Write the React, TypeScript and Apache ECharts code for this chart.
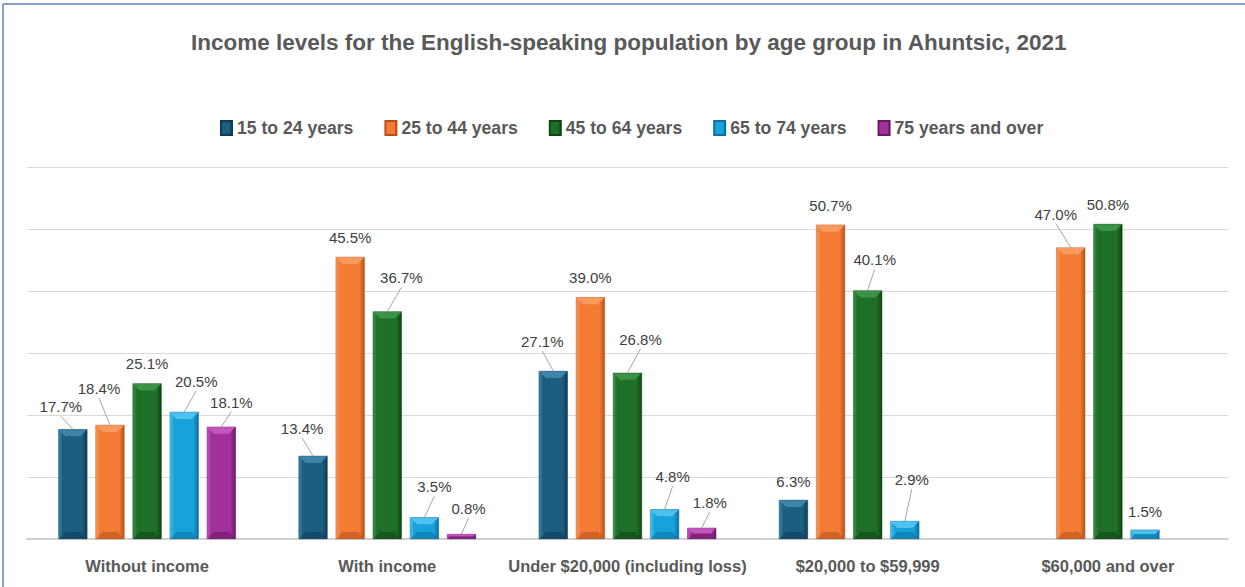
import React, { useEffect, useRef } from "react";
import * as echarts from "echarts";

const categories = [
  "Without income",
  "With income",
  "Under $20,000 (including loss)",
  "$20,000 to $59,999",
  "$60,000 and over",
];
const seriesNames = [
  "15 to 24 years",
  "25 to 44 years",
  "45 to 64 years",
  "65 to 74 years",
  "75 years and over",
];
const age15to24 = [17.7, 13.4, 27.1, 6.3, null];
const age25to44 = [18.4, 45.5, 39.0, 50.7, 47.0];
const age45to64 = [25.1, 36.7, 26.8, 40.1, 50.8];
const age65to74 = [20.5, 3.5, 4.8, 2.9, 1.5];
const age75plus = [18.1, 0.8, 1.8, null, null];
const seriesValues = [age15to24, age25to44, age45to64, age65to74, age75plus];

const yTicks = { min: 0, max: 60, interval: 10 };

// label displacement (style) per series / category
const labelOffsets: (number[] | null)[][] = [
  [[-12, -10], [-11, -15], [-11, -17], [0, -6], null],
  [[-11, -24], [0, -7], [0, -7], [0, -7], [-15, -21]],
  [[0, -7], [14, -21], [13, -21], [7, -18], [0, -7]],
  [[12, -18], [10, -18], [8, -20], [7, -29], [0, -6]],
  [[10, -12], [7, -13], [8, -13], null, null],
];

const colors = ["#1C5E80", "#F47B33", "#1E6F27", "#17A2DC", "#A2309C"];
const darkColors = ["#0E3A52", "#B5521A", "#0E4414", "#0C6F9C", "#6A1866"];
const lightColors = ["#3F86AA", "#F99C62", "#3E9447", "#52C3EF", "#C557BF"];

const SANS = "'Liberation Sans', Arial, sans-serif";
const BORDER = "#5B80BE";

export default function App() {
  const ref = useRef<HTMLDivElement>(null);
  useEffect(() => {
    if (!ref.current) return;
    const chart = echarts.init(ref.current, null, { renderer: "svg" });
    const series = seriesValues.map((vals, si) => ({
      name: seriesNames[si],
      type: "bar",
      barWidth: 29,
      barGap: "28%",
      itemStyle: {
        color: new echarts.graphic.LinearGradient(0, 0, 1, 0, [
          { offset: 0, color: lightColors[si] },
          { offset: 0.14, color: colors[si] },
          { offset: 0.82, color: colors[si] },
          { offset: 1, color: darkColors[si] },
        ]),
        borderColor: darkColors[si],
        borderWidth: 0.5,
      },
      label: {
        show: true,
        position: "top",
        distance: 5,
        color: "#404040",
        fontSize: 15,
        fontFamily: SANS,
        formatter: (p: any) => (p.value == null ? "" : Number(p.value).toFixed(1) + "%"),
      },
      labelLayout: (params: any) => {
        const o = labelOffsets[si][params.dataIndex];
        if (!o) return {};
        return { dx: o[0], dy: o[1] };
      },
      data: vals,
    }));

    const borderLines = [
      {
        type: "line",
        z: 20,
        shape: { x1: 3, y1: 4, x2: 1245, y2: 4 },
        style: { stroke: BORDER, lineWidth: 1.5 },
      },
      {
        type: "line",
        z: 20,
        shape: { x1: 3, y1: 4, x2: 3, y2: 587 },
        style: { stroke: BORDER, lineWidth: 1.5 },
      },
    ];

    chart.setOption({
      animation: false,
      backgroundColor: "#FFFFFF",
      color: colors,
      title: {
        text: "Income levels for the English-speaking population by age group in Ahuntsic, 2021",
        left: 186,
        top: 26,
        textStyle: {
          color: "#595959",
          fontSize: 22.5,
          fontWeight: "bold",
          fontFamily: SANS,
        },
      },
      legend: {
        top: 114,
        left: 215,
        itemWidth: 11,
        itemHeight: 14,
        itemGap: 31,
        icon: "rect",
        textStyle: {
          color: "#595959",
          fontSize: 17.6,
          fontWeight: "bold",
          fontFamily: SANS,
        },
        data: seriesNames,
      },
      grid: { left: 27, right: 17, top: 167, bottom: 48 },
      xAxis: {
        type: "category",
        data: categories,
        axisTick: { show: false },
        axisLine: { lineStyle: { color: "#D0D0D0", width: 2 } },
        axisLabel: {
          color: "#595959",
          fontSize: 16.5,
          fontWeight: "bold",
          fontFamily: SANS,
          margin: 18,
          interval: 0,
        },
      },
      yAxis: {
        type: "value",
        min: yTicks.min,
        max: yTicks.max,
        interval: yTicks.interval,
        axisLabel: { show: false },
        axisLine: { show: false },
        axisTick: { show: false },
        splitLine: { lineStyle: { color: "#D9D9D9", width: 1 } },
      },
      graphic: borderLines,
      series,
    });

    // bevel highlights and leader lines derived from the library's bar layout
    const extra: any[] = [];
    try {
      const model = (chart as any).getModel();
      seriesValues.forEach((vals, si) => {
        const data = model.getSeriesByIndex(si).getData();
        vals.forEach((v, ci) => {
          if (v == null) return;
          const lay = data.getItemLayout(ci);
          if (!lay || !isFinite(lay.x) || !isFinite(lay.y)) return;
          const x = lay.x;
          const w = lay.width;
          const top = Math.min(lay.y, lay.y + lay.height);
          const bottom = Math.max(lay.y, lay.y + lay.height);
          const h = bottom - top;
          const b = Math.min(7, h / 2);
          extra.push({
            type: "polygon",
            z: 10,
            silent: true,
            shape: {
              points: [
                [x + 0.5, top + 0.5],
                [x + w - 0.5, top + 0.5],
                [x + w - b, top + b],
                [x + b, top + b],
              ],
            },
            style: { fill: lightColors[si], opacity: 0.95 },
          });
          extra.push({
            type: "polygon",
            z: 10,
            silent: true,
            shape: {
              points: [
                [x + 0.5, bottom],
                [x + w - 0.5, bottom],
                [x + w - b, bottom - b],
                [x + b, bottom - b],
              ],
            },
            style: { fill: darkColors[si], opacity: 0.55 },
          });
          const o = labelOffsets[si][ci];
          if (o && (Math.abs(o[0]) > 3 || o[1] < -9)) {
            const sx = x + w / 2;
            const sy = top;
            const ex = sx + o[0];
            const ey = top - 5 + o[1] + 2;
            extra.push({
              type: "line",
              z: 10,
              silent: true,
              shape: { x1: sx, y1: sy, x2: ex, y2: ey },
              style: { stroke: "#A6A6A6", lineWidth: 1 },
            });
          }
        });
      });
    } catch (e) {
      // ignore
    }
    if (extra.length) {
      chart.setOption({ graphic: [...borderLines, ...extra] });
    }
    return () => chart.dispose();
  }, []);
  return (
    <div
      ref={ref}
      style={{ position: "fixed", left: 0, top: 0, width: 1245, height: 587 }}
    />
  );
}
